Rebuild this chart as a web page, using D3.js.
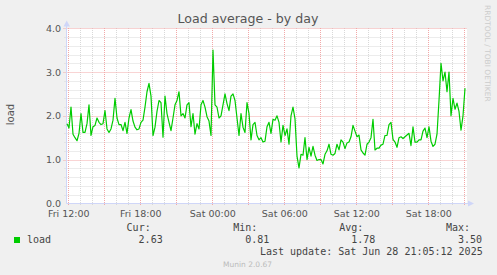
<!DOCTYPE html>
<html>
<head>
<meta charset="utf-8">
<script src="https://cdn.jsdelivr.net/npm/d3@7"></script>
<style>
  body { margin: 0; background: #f0f0f0; }
  svg { display: block; font-family: "DejaVu Sans", sans-serif; }
</style>
</head>
<body>
<svg id="viz"></svg>
<script>
const width = 497;
const height = 275;

// munin day graph: 10 minute samples
const start = new Date(2025, 5, 27, 11, 53, 30);
const end = new Date(2025, 5, 28, 21, 13, 30);
const stepMinutes = 10;
const load = [
  1.82, 1.72, 2.20, 1.58, 1.50, 1.43, 1.60, 2.05, 1.62, 1.62,
  1.82, 2.25, 1.55, 1.75, 1.78, 1.95, 1.85, 1.80, 1.82, 2.12,
  1.70, 1.62, 1.70, 1.90, 2.40, 1.95, 1.80, 1.80, 1.66, 1.85,
  1.60, 1.95, 2.14, 1.88, 1.74, 1.68, 1.70, 1.85, 1.90, 2.20,
  2.55, 2.74, 2.45, 1.55, 1.74, 2.10, 2.35, 2.30, 1.51, 2.45,
  2.05, 1.85, 1.66, 1.95, 2.25, 2.35, 2.55, 2.00, 2.05, 1.95,
  2.25, 2.30, 1.75, 2.05, 1.58, 1.82, 1.70, 2.25, 2.35, 2.20,
  1.98, 1.88, 1.55, 3.50, 2.25, 2.20, 1.95, 2.00, 2.25, 2.50,
  2.28, 2.12, 2.45, 2.50, 2.35, 1.95, 1.55, 2.05, 1.74, 1.62,
  2.30, 2.05, 1.45, 1.80, 1.85, 1.55, 1.45, 1.50, 1.40, 1.42,
  1.75, 1.85, 1.60, 1.92, 1.90, 2.00, 1.85, 1.40, 1.78, 1.55,
  1.70, 1.35, 2.00, 2.20, 1.93, 1.08, 0.81, 1.12, 1.10, 1.50,
  1.00, 1.28, 1.08, 1.30, 1.10, 0.98, 1.00, 1.00, 0.90, 1.12,
  1.20, 1.35, 1.12, 1.10, 1.14, 1.35, 1.22, 1.45, 1.40, 1.25,
  1.38, 1.40, 1.52, 1.78, 1.65, 1.52, 1.56, 1.22, 1.15, 1.10,
  1.35, 1.40, 1.50, 1.92, 1.22, 1.26, 1.26, 1.33, 1.35, 1.55,
  1.55, 1.80, 1.85, 1.46, 1.40, 1.28, 1.50, 1.52, 1.48, 1.52,
  1.56, 1.60, 1.32, 1.75, 1.40, 1.40, 1.45, 1.45, 1.65, 1.72,
  1.50, 1.75, 1.42, 1.30, 1.35, 1.58, 2.35, 3.20, 2.80, 3.00,
  2.55, 3.00, 2.00, 2.40, 2.15, 2.29, 2.10, 1.67, 2.00, 2.63
];

const yTicks = [0, 1, 2, 3, 4];
const statLabels = ["Cur:", "Min:", "Avg:", "Max:"];
const statValues = [2.63, 0.81, 1.78, 3.50];
const lastUpdate = "Last update: Sat Jun 28 21:05:12 2025";

const data = load.map((v, i) => ({ t: new Date(+start + i * stepMinutes * 60000), v: v }));

const x = d3.scaleTime().domain([start, end]).range([67, 467]);
const y = d3.scaleLinear().domain([0, 4]).range([203.3, 28.3]);

const svg = d3.select("#viz").attr("width", width).attr("height", height);

svg.append("rect").attr("width", width).attr("height", height).attr("fill", "#f0f0f0");
svg.append("rect")
  .attr("x", x.range()[0]).attr("y", y(4))
  .attr("width", x.range()[1] - x.range()[0]).attr("height", y(0) - y(4))
  .attr("fill", "#ffffff");

// grid
const grid = svg.append("g");
const minorY = d3.range(1, 21).map(k => k * 0.2).filter((v, k) => (k + 1) % 5 != 0);
const hours = d3.timeHour.range(d3.timeHour.ceil(start), end);
const minorX = hours.filter(d => d.getHours() % 3 != 0);
const majorX = hours.filter(d => d.getHours() % 3 == 0);

grid.selectAll(".ymin").data(minorY).enter().append("line")
  .attr("x1", 64.5).attr("x2", 467)
  .attr("y1", d => Math.round(y(d)) + 0.5).attr("y2", d => Math.round(y(d)) + 0.5)
  .attr("stroke", "#d8d8d8").attr("stroke-dasharray", "1,1");
grid.selectAll(".xmin").data(minorX).enter().append("line")
  .attr("x1", d => Math.round(x(d)) + 0.5).attr("x2", d => Math.round(x(d)) + 0.5)
  .attr("y1", 28).attr("y2", 205)
  .attr("stroke", "#d8d8d8").attr("stroke-dasharray", "1,1");
grid.selectAll(".ymaj").data(yTicks.filter(d => d > 0)).enter().append("line")
  .attr("x1", 63.5).attr("x2", 467)
  .attr("y1", d => Math.round(y(d)) + 0.5).attr("y2", d => Math.round(y(d)) + 0.5)
  .attr("stroke", "#f2a8a8").attr("stroke-dasharray", "1,1");
grid.selectAll(".xmaj").data(majorX).enter().append("line")
  .attr("x1", d => Math.round(x(d)) + 0.5).attr("x2", d => Math.round(x(d)) + 0.5)
  .attr("y1", 28).attr("y2", 206)
  .attr("stroke", "#f2a8a8").attr("stroke-dasharray", "1,1");

// axes lines + arrows
const axisColor = "#cfd6f8";
svg.append("line").attr("x1", 66.5).attr("x2", 66.5).attr("y1", 24).attr("y2", 203.5)
  .attr("stroke", axisColor);
svg.append("line").attr("x1", 66.5).attr("x2", 470).attr("y1", 203.5).attr("y2", 203.5)
  .attr("stroke", axisColor);
svg.append("path").attr("d", "M63.5,26.5 L70,26.5 L66.7,20.5 Z").attr("fill", axisColor);
svg.append("path").attr("d", "M468,200.5 L468,206.5 L474,203.5 Z").attr("fill", axisColor);

// the series
const line = d3.line().x(d => x(d.t)).y(d => y(d.v));
svg.append("path").datum(data)
  .attr("fill", "none").attr("stroke", "#00cc00").attr("stroke-width", 1.2)
  .attr("stroke-linejoin", "round")
  .attr("d", line);

// tick labels through d3 axes
const yAxis = svg.append("g").attr("transform", "translate(67,0)")
  .call(d3.axisLeft(y).tickValues(yTicks).tickFormat(d3.format(".1f")).tickSize(0).tickPadding(6));
const xAxis = svg.append("g").attr("transform", "translate(0,203)")
  .call(d3.axisBottom(x).ticks(d3.timeHour.every(6)).tickFormat(d3.timeFormat("%a %H:%M")).tickSize(0).tickPadding(7));
[yAxis, xAxis].forEach(a => {
  a.select(".domain").remove();
  a.selectAll("text").attr("fill", "#555").style("font-size", "9.5px")
    .style("font-family", "'DejaVu Sans', sans-serif");
});

// title & labels
svg.append("text").attr("x", 248).attr("y", 22.5).attr("text-anchor", "middle")
  .attr("fill", "#555").style("font-size", "12.6px").text("Load average - by day");
svg.append("text").attr("transform", "translate(14.3,114.5) rotate(-90)").attr("text-anchor", "middle")
  .attr("fill", "#555").style("font-size", "10px").text("load");
svg.append("text").attr("transform", "translate(485,5) rotate(90)")
  .attr("fill", "#cccccc").style("font-size", "7.5px").text("RRDTOOL / TOBI OETIKER");

// legend
const mono = "'DejaVu Sans Mono', monospace";
const legend = svg.append("g").style("font-family", mono).style("font-size", "10px").attr("fill", "#444");
legend.append("rect").attr("x", 14).attr("y", 237).attr("width", 6).attr("height", 6).attr("fill", "#00cc00");
legend.append("text").attr("x", 27).attr("y", 243).text("load");
const headerRight = [150.7, 257.3, 363.3, 470];
legend.selectAll(".hdr").data(statLabels).enter().append("text")
  .attr("x", (d, i) => headerRight[i]).attr("y", 230.7).attr("text-anchor", "end").text(d => d);
legend.selectAll(".val").data(statValues).enter().append("text")
  .attr("x", (d, i) => headerRight[i] + 12).attr("y", 243).attr("text-anchor", "end")
  .text(d => d3.format(".2f")(d));
legend.append("text").attr("x", 482.7).attr("y", 254.5).attr("text-anchor", "end").text(lastUpdate);

svg.append("text").attr("x", 223).attr("y", 267).attr("fill", "#bbbbbb")
  .style("font-size", "7.5px").text("Munin 2.0.67");
</script>
</body>
</html>
